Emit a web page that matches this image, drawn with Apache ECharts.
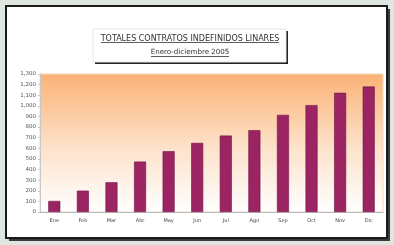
<!DOCTYPE html>
<html>
<head>
<meta charset="utf-8">
<script src="https://cdn.jsdelivr.net/npm/echarts@6/dist/echarts.min.js"></script>
<style>
  html, body { margin: 0; padding: 0; background: #dfe6df; }
  #main { width: 394px; height: 245px; }
</style>
</head>
<body>
<div id="main"></div>
<script>
// meses y contratos indefinidos
var meses = ['Ene', 'Feb', 'Mar', 'Abr', 'May', 'Jun', 'Jul', 'Ago', 'Sep', 'Oct', 'Nov', 'Dic'];
var contratos = [104, 201, 280, 475, 573, 651, 720, 771, 915, 1007, 1123, 1182];
var titulo = 'TOTALES CONTRATOS INDEFINIDOS LINARES';
var subtitulo = 'Enero-diciembre 2005';

let myChart = echarts.init(document.getElementById('main'));
let option = {
    backgroundColor: '#dfe6df',
    animation: false,
    graphic: [
        // sombra y marco del panel
        { type: 'rect', shape: { x: 9, y: 9, width: 381, height: 232 }, style: { fill: '#3a3a3a' }, z: -10 },
        { type: 'rect', shape: { x: 6, y: 6, width: 381, height: 232 }, style: { fill: '#ffffff', stroke: '#1a1a1a', lineWidth: 2 }, z: -9 },
        // caja del titulo
        { type: 'rect', shape: { x: 95, y: 31, width: 193, height: 33 }, style: { fill: '#222' }, z: -8 },
        { type: 'rect', shape: { x: 93, y: 29, width: 193, height: 33 }, style: { fill: '#ffffff', stroke: '#e6e6e6', lineWidth: 1 }, z: -7 },
        // subrayados
        { type: 'line', shape: { x1: 101, y1: 42.5, x2: 279, y2: 42.5 }, style: { stroke: '#333', lineWidth: 0.8 }, z: 10 },
        { type: 'line', shape: { x1: 151, y1: 56.5, x2: 229, y2: 56.5 }, style: { stroke: '#333', lineWidth: 0.8 }, z: 10 }
    ],
    title: [
        {
            text: titulo,
            left: 190, top: 34.5, textAlign: 'center', padding: 0,
            textStyle: { fontFamily: 'DejaVu Sans', fontSize: 8, fontWeight: 'normal', color: '#333' }
        },
        {
            text: subtitulo,
            left: 190, top: 48.5, textAlign: 'center', padding: 0,
            textStyle: { fontFamily: 'DejaVu Sans', fontSize: 7.1, fontWeight: 'normal', color: '#333' }
        }
    ],
    grid: {
        left: 40, right: 11, top: 74, bottom: 33,
        show: true,
        borderColor: '#f3d7bd',
        borderWidth: 1,
        backgroundColor: {
            type: 'linear', x: 0, y: 0, x2: 0, y2: 1,
            colorStops: [
                { offset: 0, color: '#fbb276' },
                { offset: 0.55, color: '#fde3cc' },
                { offset: 1, color: '#ffffff' }
            ]
        }
    },
    xAxis: {
        type: 'category',
        data: meses,
        axisLine: { lineStyle: { color: '#b8b8b8' } },
        axisTick: { show: false },
        axisLabel: { fontSize: 5, color: '#444', margin: 6, fontFamily: 'DejaVu Sans' }
    },
    yAxis: {
        type: 'value',
        min: 0, max: 1300, interval: 100,
        axisLine: { show: true, lineStyle: { color: '#c8c8c8' } },
        axisTick: { show: true, length: 2, lineStyle: { color: '#c8c8c8' } },
        splitLine: { show: false },
        axisLabel: {
            fontSize: 5.5, color: '#555', margin: 4, fontFamily: 'DejaVu Sans',
            formatter: function (v) { return v >= 1000 ? Math.floor(v / 1000) + ',' + String(v % 1000).padStart(3, '0') : String(v); }
        }
    },
    series: [
        {
            name: 'Contratos',
            type: 'bar',
            data: contratos,
            barWidth: 12,
            itemStyle: { color: '#9c2462', borderColor: '#6e1444', borderWidth: 0.6 }
        }
    ]
};
myChart.setOption(option);
</script>
</body>
</html>
